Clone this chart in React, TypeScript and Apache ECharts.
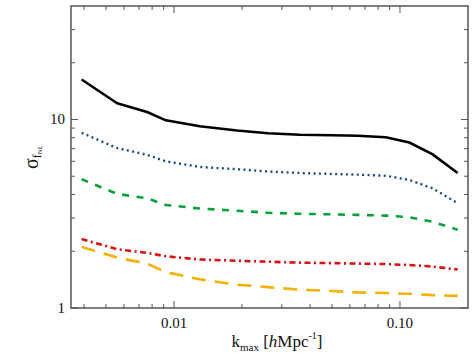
import React, { useEffect, useRef } from "react";
import * as echarts from "echarts";

// k_max grid (h/Mpc)
const kValues = [0.0039, 0.0056, 0.0076, 0.0092, 0.013, 0.019, 0.026, 0.036, 0.05, 0.065, 0.0865, 0.11, 0.139, 0.18];
// sigma(f_NL) curves
const solidBlack = [16.3, 12.2, 10.95, 9.9, 9.2, 8.75, 8.45, 8.3, 8.25, 8.2, 8.05, 7.55, 6.55, 5.2];
const dottedBlue = [8.5, 7.05, 6.5, 6.0, 5.6, 5.45, 5.3, 5.2, 5.14, 5.1, 5.03, 4.78, 4.32, 3.6];
const dashedGreen = [4.82, 4.03, 3.82, 3.52, 3.37, 3.28, 3.2, 3.16, 3.14, 3.12, 3.09, 3.03, 2.87, 2.6];
const dashDotRed = [2.32, 2.05, 1.96, 1.88, 1.81, 1.78, 1.76, 1.74, 1.73, 1.72, 1.71, 1.69, 1.66, 1.6];
const longDashOrange = [2.11, 1.85, 1.72, 1.55, 1.42, 1.33, 1.29, 1.25, 1.23, 1.21, 1.2, 1.19, 1.17, 1.16];

// axis ticks
const xMajorTicks = [0.01, 0.1];
const xMinorTicks = [0.004, 0.005, 0.006, 0.007, 0.008, 0.009, 0.02, 0.03, 0.04, 0.05, 0.06, 0.07, 0.08, 0.09];
const yMajorTicks = [1, 10];
const yMinorTicks = [2, 3, 4, 5, 6, 7, 8, 9, 20, 30];

const X_MIN = 0.0035;
const X_MAX = 0.2;
const Y_MIN = 1;
const Y_MAX = 40;

const FRAME = "#555555";
const SERIF = "'Liberation Serif', 'DejaVu Serif', serif";

const zip = (ys: number[]) => kValues.map((k, i) => [k, ys[i]]);

export default function App() {
  const ref = useRef<HTMLDivElement>(null);
  useEffect(() => {
    if (!ref.current) return;
    const chart = echarts.init(ref.current, undefined, { renderer: "svg" });

    const isPow10 = (v: number) => Math.abs(Math.log10(v) - Math.round(Math.log10(v))) < 1e-6;

    const lineSeries = (name: string, ys: number[], color: string, type: any, width = 2.4) => ({
      name,
      type: "line",
      data: zip(ys),
      symbol: "none",
      showSymbol: false,
      silent: true,
      lineStyle: { color, width, type, cap: "butt" },
      z: 3,
    });

    const renderTicks = (params: any, api: any) => {
      const cs = params.coordSys;
      const children: any[] = [];
      const top = cs.y;
      const bottom = cs.y + cs.height;
      const left = cs.x;
      const right = cs.x + cs.width;
      const mk = (x1: number, y1: number, x2: number, y2: number) => ({
        type: "line",
        shape: { x1, y1, x2, y2 },
        style: { stroke: FRAME, lineWidth: 1 },
      });
      const addX = (vals: number[], len: number) => {
        vals.forEach((v) => {
          const px = api.coord([v, Y_MIN])[0];
          children.push(mk(px, bottom, px, bottom - len));
          children.push(mk(px, top, px, top + len));
        });
      };
      const addY = (vals: number[], len: number) => {
        vals.forEach((v) => {
          const py = api.coord([X_MIN, v])[1];
          children.push(mk(left, py, left + len, py));
          children.push(mk(right, py, right - len, py));
        });
      };
      addX(xMajorTicks, 7);
      addX(xMinorTicks, 4);
      addY(yMajorTicks, 7);
      addY(yMinorTicks, 4);
      return { type: "group", children };
    };

    chart.setOption({
      animation: false,
      backgroundColor: "#ffffff",
      grid: {
        left: 71,
        top: 6,
        width: 397,
        height: 302,
        show: true,
        borderColor: FRAME,
        borderWidth: 1.5,
        containLabel: false,
      },
      xAxis: {
        type: "log",
        logBase: 10,
        min: X_MIN,
        max: X_MAX,
        axisLine: { show: false },
        axisTick: { show: false },
        splitLine: { show: false },
        axisLabel: {
          margin: 7,
          fontFamily: SERIF,
          fontSize: 15,
          color: "#111",
          formatter: (v: number) => (isPow10(v) ? v.toFixed(2) : ""),
        },
      },
      yAxis: {
        type: "log",
        logBase: 10,
        min: Y_MIN,
        max: Y_MAX,
        axisLine: { show: false },
        axisTick: { show: false },
        splitLine: { show: false },
        axisLabel: {
          margin: 6,
          fontFamily: SERIF,
          fontSize: 15,
          color: "#111",
          formatter: (v: number) => (isPow10(v) ? String(Math.round(v)) : ""),
        },
      },
      series: [
        lineSeries("solid", solidBlack, "#000000", "solid", 2.6),
        lineSeries("dotted", dottedBlue, "#1b4a7a", [2, 3.4], 2.4),
        lineSeries("dashed", dashedGreen, "#08a03a", [7, 7.5], 2.6),
        lineSeries("dashdot", dashDotRed, "#d81010", [6, 3.5, 2, 3.5], 2.6),
        lineSeries("longdash", longDashOrange, "#f2b000", [14, 9], 2.6),
        {
          type: "custom",
          renderItem: renderTicks,
          data: [[0.01, 1]],
          silent: true,
          z: 5,
        },
      ],
      graphic: [
        {
          type: "text",
          x: 277,
          y: 341,
          silent: true,
          style: {
            text: "{b|k}{s|max}{b| [}{i|h}{b|Mpc}{p|-1}{b|]}",
            align: "center",
            verticalAlign: "middle",
            fill: "#111",
            rich: {
              b: { fontFamily: SERIF, fontSize: 17, lineHeight: 22, verticalAlign: "middle", fill: "#111" },
              i: { fontFamily: SERIF, fontSize: 17, lineHeight: 22, fontStyle: "italic", verticalAlign: "middle", fill: "#111" },
              s: { fontFamily: SERIF, fontSize: 11, lineHeight: 11, verticalAlign: "bottom", fill: "#111" },
              p: { fontFamily: SERIF, fontSize: 10, lineHeight: 10, verticalAlign: "top", fill: "#111" },
            },
          },
        },
        {
          type: "text",
          x: 32,
          y: 157,
          rotation: Math.PI / 2,
          silent: true,
          style: {
            text: "{g|σ}{f|f}{n|NL}",
            align: "center",
            verticalAlign: "middle",
            fill: "#111",
            rich: {
              g: { fontFamily: SERIF, fontSize: 20, lineHeight: 22, verticalAlign: "top", fill: "#111" },
              f: { fontFamily: SERIF, fontSize: 12, lineHeight: 12, verticalAlign: "bottom", fill: "#111" },
              n: { fontFamily: SERIF, fontSize: 7, lineHeight: 6, verticalAlign: "bottom", fill: "#111" },
            },
          },
        },
      ],
    });
    return () => chart.dispose();
  }, []);

  return (
    <div
      ref={ref}
      style={{ position: "absolute", left: 0, top: 0, width: 472, height: 354 }}
    />
  );
}
